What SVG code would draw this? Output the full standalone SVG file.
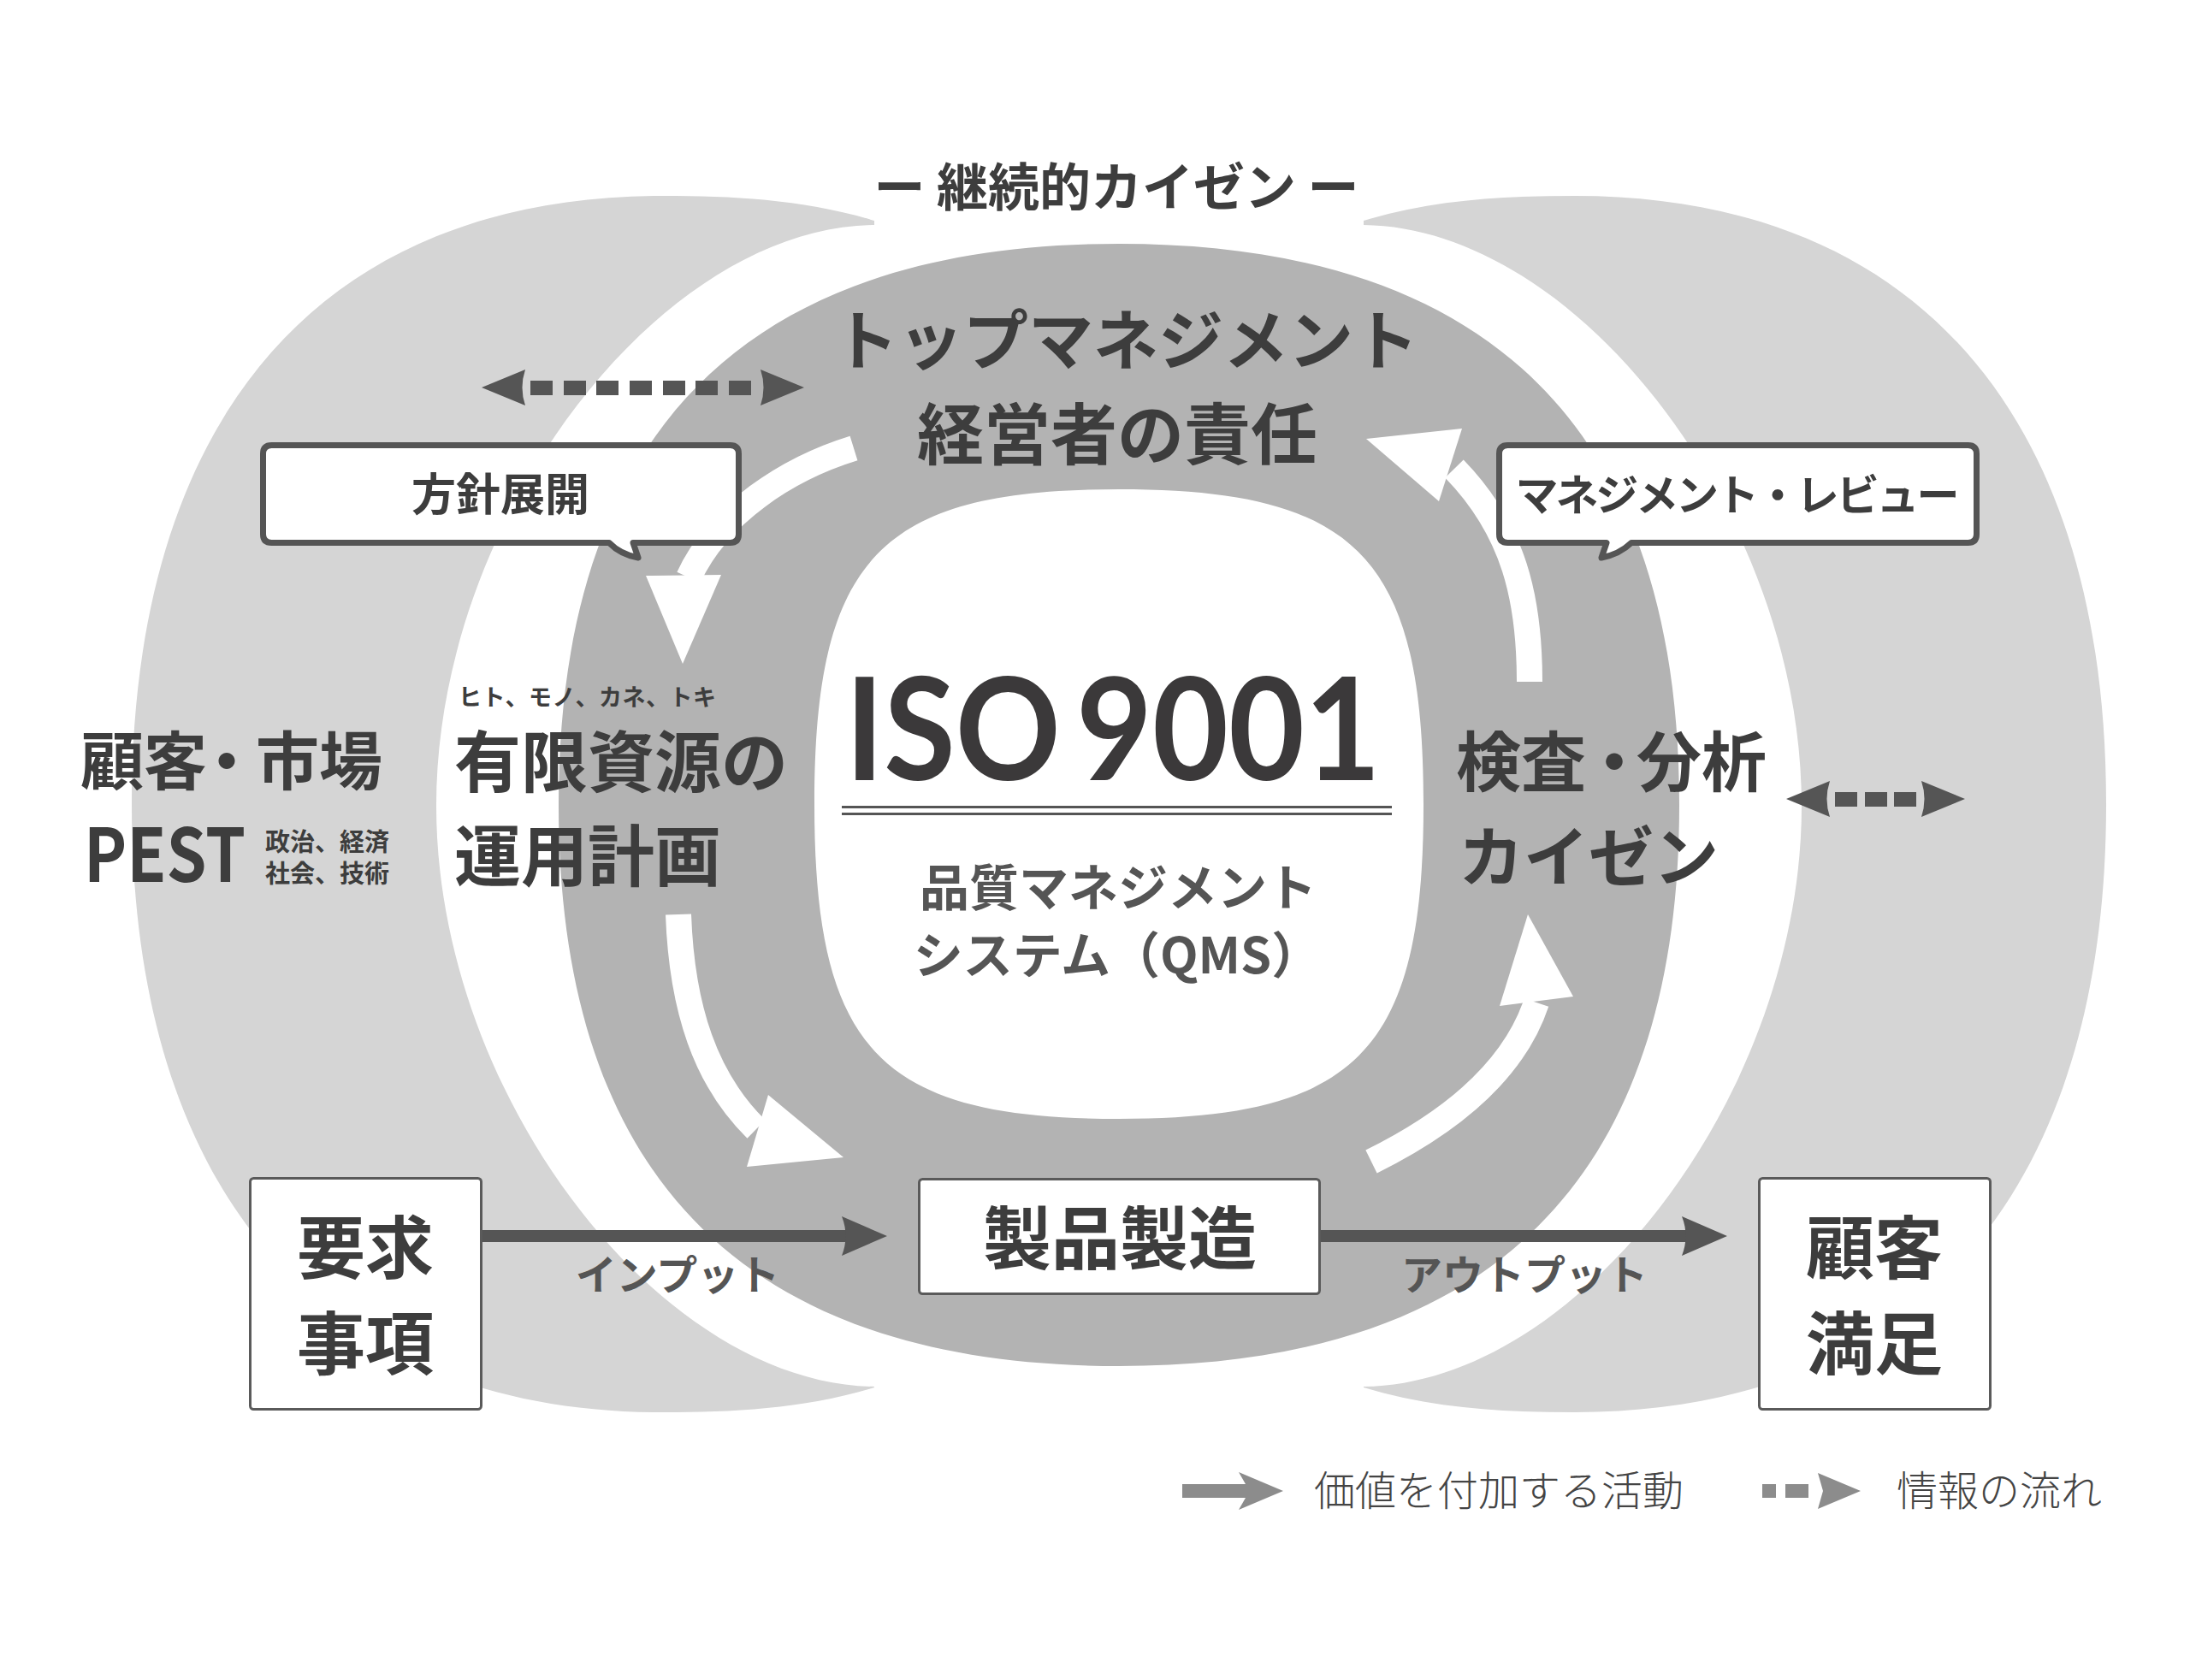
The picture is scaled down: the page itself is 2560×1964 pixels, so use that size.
<svg xmlns="http://www.w3.org/2000/svg" xmlns:xlink="http://www.w3.org/1999/xlink" width="2560" height="1964" viewBox="0 0 2560 1964">
<style>
.lg{fill:#d5d5d5}
.dg{fill:#b3b3b3}
.t{font-family:"Noto Sans CJK JP","Noto Sans",sans-serif;font-weight:700;fill:#3d3d3d}
.mid{fill:#555}
.lite{font-weight:300;fill:#444}
.box{fill:#fff;stroke:#5a5a5a;stroke-width:3}
.bub{fill:#fff;stroke:#555;stroke-width:7;stroke-linejoin:round}
.band{fill:none;stroke:#fff;stroke-width:30}
.dash{fill:#555}
.leg{fill:#8c8c8c}
</style>
<defs>
<path id="lc" d="M 1022 258 C 940 233 857 229 775 229 C 378 229 154 485 154 940 C 154 1395 378 1651 775 1651 C 857 1651 940 1647 1022 1622 L 1022 1621 C 770 1618 510 1277 510 942 C 510 607 770 266 1022 263 Z"/>
<path id="ah" d="M 0 0 L -53 -23 Q -44 0 -53 23 Z"/>
<path id="dh" d="M 0 0 L -51 -21 Q -44 0 -51 21 Z"/>
</defs>
<rect width="2560" height="1964" fill="#fff"/>

<g id="background-rings">
<use xlink:href="#lc" class="lg"/>
<use xlink:href="#lc" class="lg" transform="matrix(-1 0 0 1 2616 0)"/>
<path class="dg" fill-rule="evenodd" d="M 1308 285 C 1743.6 285 1963 504.8 1963 941 C 1963 1377.2 1743.6 1597 1308 1597 C 872.4 1597 653 1377.2 653 941 C 653 504.8 872.4 285 1308 285 Z M 1308 572 C 1586.7 572 1664 651.9 1664 940 C 1664 1228.1 1586.7 1308 1308 1308 C 1029.3 1308 952 1228.1 952 940 C 952 651.9 1029.3 572 1308 572 Z"/>
</g>

<g id="cycle-arrows">
<path class="band" d="M 998 524 C 920 548 840 600 805 675"/>
<polygon fill="#fff" points="755,673 843,672 798,776"/>
<path class="band" d="M 793 1069 C 797 1180 825 1262 884 1320"/>
<polygon fill="#fff" points="898,1280 986,1353 873,1364"/>
<path class="band" d="M 1603 1358 C 1700 1310 1770 1250 1796 1172"/>
<polygon fill="#fff" points="1753,1176 1839,1165 1786,1069"/>
<path class="band" d="M 1788 797 C 1788 700 1770 620 1700 548"/>
<polygon fill="#fff" points="1709,501 1682,586 1597,513"/>
</g>

<g id="title">
<text class="t" x="1305" y="241" font-size="60" text-anchor="middle">ー 継続的カイゼン ー</text>
</g>

<g id="top-management">
<text class="t" x="1316" y="426" font-size="76" text-anchor="middle">トップマネジメント</text>
<text class="t" x="1306" y="537" font-size="78" text-anchor="middle">経営者の責任</text>
</g>

<g id="iso">
<text font-family="Lato,'Open Sans',sans-serif" font-weight="700" font-size="166" fill="#3b393a" y="912"><tspan x="988" textLength="252" lengthAdjust="spacingAndGlyphs">ISO</tspan> <tspan x="1258" textLength="356" lengthAdjust="spacingAndGlyphs">9001</tspan></text>
<rect x="984" y="942" width="643" height="3" fill="#555"/>
<rect x="984" y="950" width="643" height="3" fill="#555"/>
<text class="t mid" x="1307" y="1059" font-size="58" text-anchor="middle">品質マネジメント</text>
<text class="t mid" x="1306" y="1138" font-size="58" text-anchor="middle">システム（QMS）</text>
</g>

<g id="customer-market">
<text class="t" x="94" y="917" font-size="74" dx="0 0 -14 -3 0">顧客・市場</text>
<text class="t" x="98" y="1031" font-size="86" textLength="189" lengthAdjust="spacingAndGlyphs">PEST</text>
<text class="t" x="310" y="995" font-size="29">政治、経済</text>
<text class="t" x="310" y="1032" font-size="29">社会、技術</text>
</g>

<g id="resources">
<text class="t" x="536" y="825" font-size="27" font-weight="500" textLength="301" lengthAdjust="spacing">ヒト、モノ、カネ、トキ</text>
<text class="t" x="531" y="920" font-size="78">有限資源の</text>
<text class="t" x="531" y="1030" font-size="78">運用計画</text>
</g>

<g id="analysis">
<text class="t" x="1702" y="919" font-size="76" dx="0 0 -5 -12 0">検査・分析</text>
<text class="t" x="1705" y="1030" font-size="76">カイゼン</text>
</g>

<g id="connectors">
<rect x="563" y="1438" width="430" height="14" fill="#555"/>
<use xlink:href="#ah" fill="#555" transform="translate(1037 1445)"/>
<rect x="1544" y="1438" width="434" height="14" fill="#555"/>
<use xlink:href="#ah" fill="#555" transform="translate(2019 1445)"/>
<g id="dotted-top">
<use xlink:href="#dh" class="dash" transform="translate(563 453) rotate(180)"/>
<use xlink:href="#dh" class="dash" transform="translate(940 453)"/>
<rect class="dash" x="620" y="445" width="26" height="17"/>
<rect class="dash" x="659" y="445" width="26" height="17"/>
<rect class="dash" x="697" y="445" width="26" height="17"/>
<rect class="dash" x="736" y="445" width="26" height="17"/>
<rect class="dash" x="775" y="445" width="26" height="17"/>
<rect class="dash" x="813" y="445" width="26" height="17"/>
<rect class="dash" x="852" y="445" width="26" height="17"/>
</g>
<g id="dotted-right">
<use xlink:href="#dh" class="dash" transform="translate(2088 934) rotate(180)"/>
<use xlink:href="#dh" class="dash" transform="translate(2297 934)"/>
<rect class="dash" x="2145" y="926" width="26" height="17"/>
<rect class="dash" x="2180" y="926" width="26" height="17"/>
<rect class="dash" x="2214" y="926" width="26" height="17"/>
</g>
</g>

<g id="label-input"><text class="t mid" x="792" y="1508" font-size="48" font-weight="500" text-anchor="middle">インプット</text></g>
<g id="label-output"><text class="t mid" x="1782" y="1508" font-size="48" font-weight="500" text-anchor="middle">アウトプット</text></g>

<g id="bubble-policy">
<path class="bub" d="M 317.5 520.5 H 853.5 Q 863.5 520.5 863.5 530.5 V 624.5 Q 863.5 634.5 853.5 634.5 H 740 L 746 652 Q 725 648 712 634.5 H 317.5 Q 307.5 634.5 307.5 624.5 V 530.5 Q 307.5 520.5 317.5 520.5 Z"/>
<text class="t" x="585" y="597" font-size="52" text-anchor="middle">方針展開</text>
</g>

<g id="bubble-review">
<path class="bub" d="M 1762.5 520.5 H 2300.5 Q 2310.5 520.5 2310.5 530.5 V 624.5 Q 2310.5 634.5 2300.5 634.5 H 1907 Q 1893 648 1872 652 L 1878 634.5 H 1762.5 Q 1752.5 634.5 1752.5 624.5 V 530.5 Q 1752.5 520.5 1762.5 520.5 Z"/>
<text class="t" x="2031" y="597" font-size="50" text-anchor="middle" textLength="519" lengthAdjust="spacing">マネジメント・レビュー</text>
</g>

<g id="node-requirements">
<rect class="box" x="292.5" y="1377.5" width="270" height="270" rx="4"/>
<text class="t" x="427" y="1488" font-size="80" text-anchor="middle">要求</text>
<text class="t" x="427" y="1600" font-size="80" text-anchor="middle">事項</text>
</g>

<g id="node-manufacturing">
<rect class="box" x="1074.5" y="1378.5" width="468" height="134" rx="4"/>
<text class="t" x="1309" y="1477" font-size="80" text-anchor="middle">製品製造</text>
</g>

<g id="node-satisfaction">
<rect class="box" x="2056.5" y="1377.5" width="270" height="270" rx="4"/>
<text class="t" x="2191" y="1488" font-size="80" text-anchor="middle">顧客</text>
<text class="t" x="2191" y="1600" font-size="80" text-anchor="middle">満足</text>
</g>

<g id="legend">
<polygon class="leg" points="1382,1735 1456,1735 1448,1721 1500,1743 1448,1765 1456,1751 1382,1751"/>
<text class="t lite" x="1536" y="1760" font-size="48">価値を付加する活動</text>
<rect class="leg" x="2060" y="1735" width="16" height="16"/>
<rect class="leg" x="2087" y="1735" width="27" height="16"/>
<polygon class="leg" points="2125,1722 2175,1743 2125,1764 2131,1743"/>
<text class="t lite" x="2217" y="1760" font-size="48">情報の流れ</text>
</g>
</svg>
